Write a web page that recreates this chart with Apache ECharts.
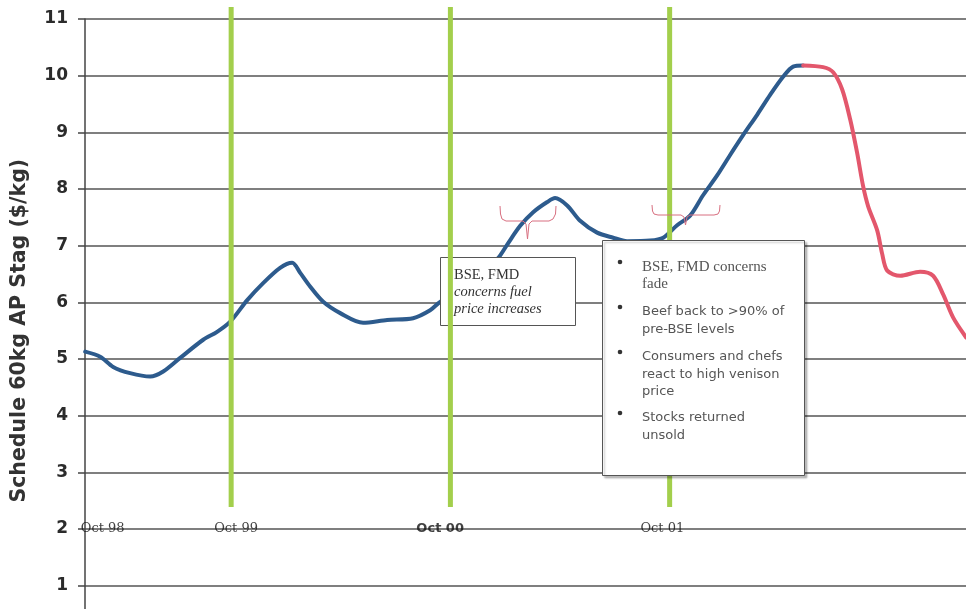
<!DOCTYPE html>
<html>
<head>
<meta charset="utf-8">
<script src="https://cdn.jsdelivr.net/npm/echarts@6/dist/echarts.min.js"></script>
<style>
  html, body { margin: 0; padding: 0; background: #ffffff; }
  #chart { width: 966px; height: 609px; }
</style>
</head>
<body>
<div id="chart"></div>
<script>
// Time is counted in months from October 1998 (0 = Oct 98, 12 = Oct 99, ...)
const priceMonths = [4.01, 4.83, 5.54, 6.47, 7.57, 8.28, 9.21, 10.47, 11.23, 11.95,
  12.88, 13.75, 14.68, 15.34, 15.78, 16.32, 17.04, 17.97, 19.22, 20.54,
  21.96, 22.89, 23.44, 23.99, 25.08, 25.90, 26.61, 27.11, 27.82, 28.53,
  29.30, 29.73, 30.39, 31.10, 32.03, 32.91, 33.67, 34.93, 35.65, 36.41,
  37.12, 37.83, 38.60, 39.31, 40.02, 40.79, 41.50, 42.21, 42.76, 43.31];
const priceValues = [5.13, 5.04, 4.86, 4.75, 4.69, 4.78, 5.02, 5.34, 5.48, 5.66,
  6.04, 6.34, 6.61, 6.70, 6.52, 6.28, 6.01, 5.81, 5.64, 5.69,
  5.72, 5.86, 6.01, 6.10, 6.35, 6.58, 6.78, 7.02, 7.35, 7.59,
  7.77, 7.84, 7.71, 7.44, 7.23, 7.14, 7.08, 7.09, 7.14, 7.36,
  7.53, 7.89, 8.24, 8.60, 8.95, 9.31, 9.66, 9.98, 10.16, 10.18];

// Later stretch of the schedule, drawn in red
const declineMonths = [43.31, 44.40, 44.95, 45.44, 45.88, 46.26, 46.59, 46.87, 47.36,
  47.63, 47.91, 48.62, 49.71, 50.42, 50.97, 51.52, 52.23];
const declineValues = [10.18, 10.15, 10.06, 9.76, 9.23, 8.64, 8.05, 7.69, 7.27,
  6.86, 6.56, 6.47, 6.54, 6.47, 6.14, 5.73, 5.38];

// October markers
const eventMonths = [12, 24, 36];
const eventLow = 2.39;
const eventHigh = 11.21;

// Date captions sitting on the $2 line
const dateLabels = ['Oct 98', 'Oct 99', 'Oct 00', 'Oct 01'];
const dateLabelMonths = [4.97, 12.27, 23.44, 35.6];
const dateLabelLevel = 2;

const yName = 'Schedule 60kg AP Stag ($/kg)';
const boxOneLines = ['BSE, FMD', 'concerns fuel', 'price increases'];
const boxTwoItems = [
  ['BSE, FMD concerns', 'fade'],
  ['Beef back to >90% of', 'pre-BSE levels'],
  ['Consumers and chefs', 'react to high venison', 'price'],
  ['Stocks returned', 'unsold']
];

const pxPerMonth = 18.27;
const pxPerUnit = 56.67;
const xMin = 4, xMax = 54, yMin = 0, yMax = 11;

const chart = echarts.init(document.getElementById('chart'), null, { renderer: 'canvas' });

const pair = (xs, ys) => xs.map((x, i) => [x, ys[i]]);

const greenSeries = eventMonths.map(m => ({
  type: 'line',
  data: [[m, eventLow], [m, eventHigh]],
  showSymbol: false,
  symbol: 'none',
  clip: false,
  z: 4,
  silent: true,
  lineStyle: { color: '#a3cf4c', width: 5, cap: 'butt' }
}));

const labelItems = dateLabels.map((t, i) => {
  const bold = t === 'Oct 00';
  return {
    value: [dateLabelMonths[i], dateLabelLevel, t],
    label: {
      show: true,
      position: 'inside',
      formatter: p => p.value[2],
      color: '#111111',
      fontFamily: bold ? 'DejaVu Sans' : 'DejaVu Serif',
      fontWeight: bold ? 'bold' : 'normal',
      fontSize: 13
    }
  };
});

// Annotation boxes and braces
const graphics = [];
// left box
graphics.push({
  type: 'rect', z: 3, shape: { x: 440.5, y: 257.5, width: 135, height: 68 },
  style: { fill: '#ffffff', stroke: '#555555', lineWidth: 1 }
});
boxOneLines.forEach((line, i) => {
  graphics.push({
    type: 'text', z: 3, x: 454, y: 275 + i * 17,
    style: {
      text: line, fill: '#333333',
      font: (i === 0 ? '' : 'italic ') + '14.5px "Liberation Serif"',
      verticalAlign: 'middle'
    }
  });
});
// right box
graphics.push({
  type: 'rect', z: 5, shape: { x: 602.5, y: 240.5, width: 202, height: 235 },
  style: {
    fill: '#ffffff', stroke: '#555555', lineWidth: 1,
    shadowBlur: 2, shadowOffsetX: 2, shadowOffsetY: 2, shadowColor: 'rgba(0,0,0,0.25)'
  }
});
const itemTops = [267, 312, 357, 418];
boxTwoItems.forEach((lines, k) => {
  graphics.push({
    type: 'circle', z: 5, shape: { cx: 620, cy: itemTops[k] - 5, r: 2.3 },
    style: { fill: '#333333' }
  });
  lines.forEach((line, j) => {
    const serif = k === 0;
    graphics.push({
      type: 'text', z: 5, x: 642, y: itemTops[k] + j * 17.5,
      style: {
        text: line, fill: '#555555',
        font: serif ? '15px "Liberation Serif"' : '13px "DejaVu Sans"',
        verticalAlign: 'middle'
      }
    });
  });
});
// braces
const braceOne = [[500, 206], [500.5, 214], [502, 219], [506, 221], [523, 221], [526, 224],
  [527.5, 239], [529, 224], [532, 221], [549, 221], [553, 219], [555.5, 214], [556, 206]];
const braceTwo = [[652, 205], [652.5, 211], [654, 214], [658, 215], [681, 215], [684, 217],
  [685.5, 225], [687, 217], [690, 215], [714, 215], [718, 214], [719.5, 211], [720, 205]];
[braceOne, braceTwo].forEach(pts => {
  graphics.push({
    type: 'polyline', z: 6,
    shape: { points: pts },
    style: { fill: 'none', stroke: '#d86f80', lineWidth: 1 }
  });
});

chart.setOption({
  animation: false,
  backgroundColor: '#ffffff',
  grid: {
    left: 85, top: 19,
    width: (xMax - xMin) * pxPerMonth,
    height: (yMax - yMin) * pxPerUnit,
    outerBoundsMode: 'none'
  },
  xAxis: {
    type: 'value', min: xMin, max: xMax,
    show: false,
    splitLine: { show: false }
  },
  yAxis: {
    type: 'value', min: yMin, max: yMax, interval: 1,
    name: yName,
    nameLocation: 'middle',
    nameGap: 55,
    nameTextStyle: { fontFamily: 'DejaVu Sans', fontWeight: 'bold', fontSize: 20.5, color: '#333333' },
    axisLine: { show: true, lineStyle: { color: '#444444', width: 1.5 } },
    axisTick: { show: true, length: 7, lineStyle: { color: '#444444', width: 1.5 } },
    axisLabel: {
      margin: 17, color: '#2b2b2b',
      fontFamily: 'DejaVu Sans', fontWeight: 'bold', fontSize: 17
    },
    splitLine: { show: true, lineStyle: { color: '#555555', width: 1.5 } }
  },
  series: [
    {
      type: 'line', data: pair(priceMonths, priceValues),
      showSymbol: false, symbol: 'none', smooth: 0.3, z: 2,
      lineStyle: { color: '#2d5b8d', width: 4, cap: 'round', join: 'round' }
    },
    {
      type: 'line', data: pair(declineMonths, declineValues),
      showSymbol: false, symbol: 'none', smooth: 0.3, z: 2,
      lineStyle: { color: '#e3576c', width: 4, cap: 'round', join: 'round' }
    },
    ...greenSeries,
    {
      type: 'scatter', data: labelItems, symbolSize: 0, z: 3, silent: true
    }
  ],
  graphic: { elements: graphics }
});
</script>
</body>
</html>
